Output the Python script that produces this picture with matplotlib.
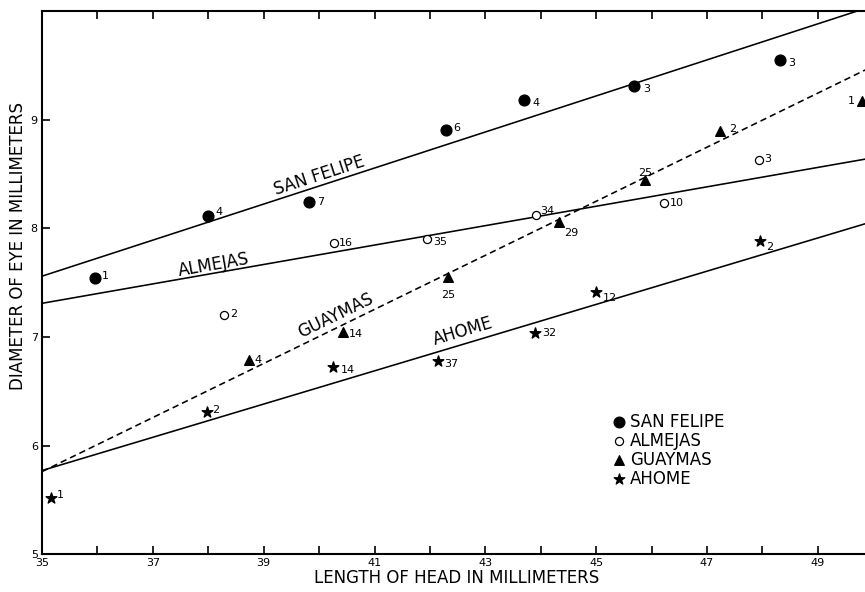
import numpy as np
import matplotlib
matplotlib.use("Agg")
import matplotlib.pyplot as plt

# Head length (mm) vs mean eye diameter (mm), with sample sizes
SF_X = [35.95, 38.0, 39.81, 42.29, 43.70, 45.69, 48.31]
SF_Y = [7.54, 8.11, 8.24, 8.91, 9.18, 9.31, 9.55]
SF_N = [1, 4, 7, 6, 4, 3, 3]

AL_X = [38.29, 40.26, 41.95, 43.92, 46.23, 47.93]
AL_Y = [7.20, 7.87, 7.90, 8.12, 8.23, 8.63]
AL_N = [2, 16, 35, 34, 10, 3]

GU_X = [38.74, 40.43, 42.33, 44.33, 45.89, 47.24, 49.79]
GU_Y = [6.79, 7.05, 7.55, 8.06, 8.45, 8.90, 9.17]
GU_N = [4, 14, 25, 29, 25, 2, 1]

AH_X = [35.16, 37.97, 40.25, 42.14, 43.90, 45.0, 47.95]
AH_Y = [5.52, 6.31, 6.72, 6.78, 7.04, 7.41, 7.88]
AH_N = [1, 2, 14, 37, 32, 12, 2]

# fitted regression lines: (value at x=35, slope)
LINE_X0 = 35.0
SF_FIT = (7.56, 0.166)
AL_FIT = (7.31, 0.0894)
GU_FIT = (5.76, 0.249)
AH_FIT = (5.77, 0.153)

# offsets in points for the sample-size numbers
SF_OFF = [(5, 2), (5, 3), (6, 0), (5, 1), (6, -2), (6, -2), (6, -2)]
AL_OFF = [(4, 1), (4, 0), (4, -2), (3, 3), (4, 0), (4, 1)]
GU_OFF = [(4, 0), (4, -2), (-5, -13), (4, -8), (-5, 5), (6, 1), (-10, 0)]
AH_OFF = [(4, 2), (4, 1), (6, -2), (5, -2), (5, 0), (5, -4), (5, -4)]

plt.rcParams["font.family"] = ["DejaVu Sans"]

fig = plt.figure(figsize=(8.65, 5.92), dpi=100)
ax = fig.add_axes([0.0486, 0.064, 1.025, 0.917])
ax.set_xlim(35, 51)
ax.set_ylim(5, 10)

xs = np.array([LINE_X0, 51.0])
for (b, m), ls in [(SF_FIT, "-"), (AL_FIT, "-"), (GU_FIT, (0, (4, 2.5))), (AH_FIT, "-")]:
    ax.plot(xs, b + m * (xs - LINE_X0), color="black", lw=1.15, ls=ls)

kw = dict(color="black", clip_on=False, zorder=3)
ax.scatter(SF_X, SF_Y, marker="o", s=60, **kw)
ax.scatter(AL_X, AL_Y, marker="o", s=34, facecolors="white", edgecolors="black",
           linewidths=0.9, clip_on=False, zorder=3)
ax.scatter(GU_X, GU_Y, marker="^", s=48, **kw)
ax.scatter(AH_X, AH_Y, marker="*", s=65, **kw)

for X, Y, N, OFF in [(SF_X, SF_Y, SF_N, SF_OFF), (AL_X, AL_Y, AL_N, AL_OFF),
                     (GU_X, GU_Y, GU_N, GU_OFF), (AH_X, AH_Y, AH_N, AH_OFF)]:
    for x, y, n, off in zip(X, Y, N, OFF):
        ax.annotate(str(n), (x, y), xytext=off, textcoords="offset points",
                    fontsize=8, va="center", ha="left")

# line names written along each line
fig.canvas.draw()
for name, (b, m), lx, dy in [("SAN FELIPE", SF_FIT, 40.0, 0.10),
                             ("ALMEJAS", AL_FIT, 38.1, 0.08),
                             ("GUAYMAS", GU_FIT, 40.3, 0.12),
                             ("AHOME", AH_FIT, 42.6, 0.12)]:
    p0 = ax.transData.transform((35, b))
    p1 = ax.transData.transform((45, b + 10 * m))
    ang = np.degrees(np.arctan2(p1[1] - p0[1], p1[0] - p0[0]))
    ax.text(lx, b + m * (lx - LINE_X0) + dy, name, rotation=ang,
            rotation_mode="anchor", ha="center", va="center", fontsize=12)

ax.set_xticks(range(35, 51, 2))
ax.set_xticks(range(36, 51, 2), minor=True)
ax.set_yticks(range(5, 10))
ax.tick_params(axis="both", which="both", direction="in", top=True,
               labelsize=8, length=6, width=1.2, pad=3)
for s in ax.spines.values():
    s.set_linewidth(1.5)

fig.text(457 / 865, 1 - 578 / 592, "LENGTH OF HEAD IN MILLIMETERS",
         ha="center", va="center", fontsize=12)
fig.text(0.021, 0.585, "DIAMETER OF EYE IN MILLIMETERS", rotation=90,
         ha="center", va="center", fontsize=12)

# key
key_x, key_y = 619, 170
for i, (mk, fc, sz, lab) in enumerate([("o", "black", 60, "SAN FELIPE"),
                                       ("o", "white", 34, "ALMEJAS"),
                                       ("^", "black", 48, "GUAYMAS"),
                                       ("*", "black", 65, "AHOME")]):
    yy = key_y - i * 19
    ax.scatter([key_x], [yy], marker=mk, s=sz, facecolors=fc, edgecolors="black",
               linewidths=0.9, transform=None, clip_on=False)
    fig.text((key_x + 11) / 865, yy / 592, lab, fontsize=12, va="center", ha="left")

fig.savefig("out.png", dpi=100)
